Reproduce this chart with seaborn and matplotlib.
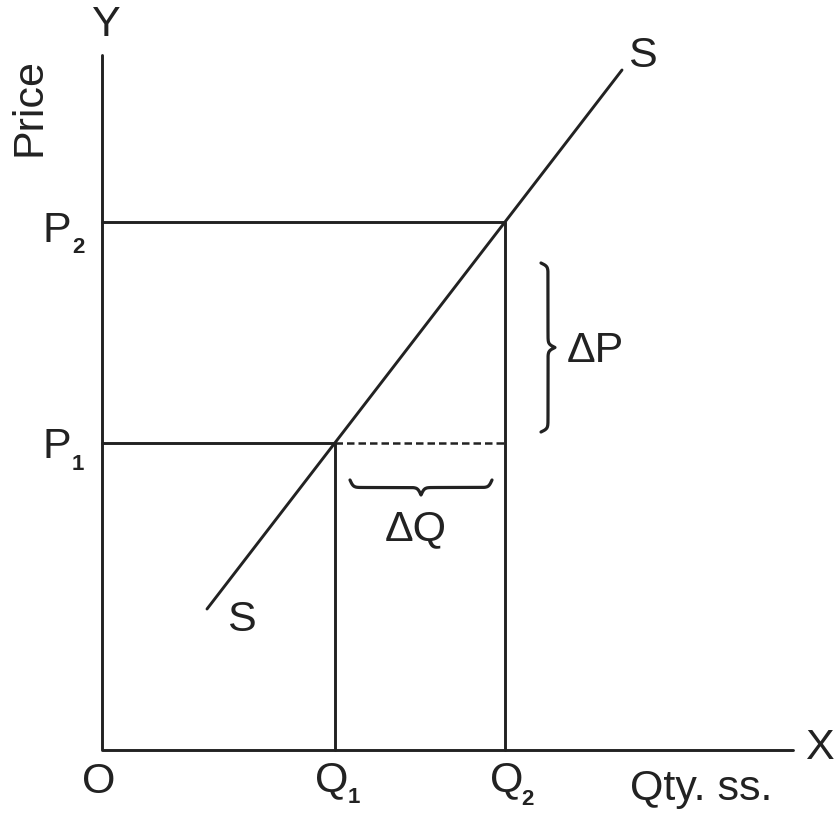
import matplotlib
matplotlib.use("Agg")
import matplotlib.pyplot as plt
import numpy as np
import pandas as pd
import seaborn as sns

OUT_PATH = "out.png"

# data units: 1 unit = 100 px, origin at O
Q1, Q2 = 2.33, 4.03
P1, P2 = 3.07, 5.28
X_END, Y_END = 6.91, 6.95

supply_q = [1.05, 5.20]
supply_p = [1.41, 6.80]

INK = "#222222"
FS = 31
SUB_FS = 16

sns.set_theme(style="white")
plt.rcParams["font.family"] = ["Liberation Sans", "DejaVu Sans"]


def brace_shape(span, n=200, beta=60.0):
    # 0 at the ends, 0.5 on the spine, 1 at the tip
    half = np.linspace(0, span / 2, n // 2)
    y = (1 / (1 + np.exp(-beta * (half - half[0])))
         + 1 / (1 + np.exp(-beta * (half - half[-1]))))
    y = np.concatenate((y, y[-2::-1])) - 0.5
    t = np.linspace(0, span, len(y))
    return t, y


segments = pd.DataFrame({
    "seg": ["axes"] * 3 + ["p2"] * 3 + ["p1"] * 3 + ["supply"] * 2,
    "q": [0, 0, X_END, 0, Q2, Q2, 0, Q1, Q1] + supply_q,
    "p": [Y_END, 0, 0, P2, P2, 0, P1, P1, 0] + supply_p,
})
dashed = pd.DataFrame({"q": [Q1, Q2], "p": [P1, P1]})

fig = plt.figure(figsize=(8.35, 8.19), dpi=100)
ax = fig.add_axes([0, 0, 1, 1])

sns.lineplot(data=segments, x="q", y="p", units="seg", estimator=None,
             sort=False, color=INK, linewidth=2.1, ax=ax)
sns.lineplot(data=dashed, x="q", y="p", estimator=None, sort=False,
             color=INK, linewidth=1.8, linestyle=(0, (3, 1.6)), ax=ax)

# brace for change in price (tip to the right)
b_lo, b_hi = P1 + 0.11, P2 - 0.41
t, s = brace_shape(b_hi - b_lo)
sns.lineplot(x=4.39 + 0.14 * s, y=b_lo + t, estimator=None, sort=False,
             color=INK, linewidth=2.3, ax=ax)

# brace for change in quantity (tip downwards)
b_lo, b_hi = Q1 + 0.15, Q2 - 0.13
t, s = brace_shape(b_hi - b_lo)
sns.lineplot(x=b_lo + t, y=P1 - 0.37 - 0.15 * s, estimator=None, sort=False,
             color=INK, linewidth=2.3, ax=ax)

txt = dict(color=INK, fontsize=FS)
sub = dict(color=INK, fontsize=SUB_FS, fontweight="bold")

ax.text(0.04, 7.14, "Y", ha="center", va="baseline", **txt)
ax.text(-0.72, 6.43, "Price", rotation=90, ha="center", va="center", **txt)
ax.text(7.17, 0.02, "X", ha="center", va="center", **txt)

ax.text(-0.60, P2 - 0.20, "P", ha="left", va="baseline", **txt)
ax.text(-0.30, P2 - 0.31, "2", ha="left", va="baseline", **sub)
ax.text(-0.60, P1 - 0.15, "P", ha="left", va="baseline", **txt)
ax.text(-0.30, P1 - 0.27, "1", ha="left", va="baseline", **sub)

ax.text(-0.03, -0.43, "O", ha="center", va="baseline", **txt)
ax.text(Q1 - 0.20, -0.41, "Q", ha="left", va="baseline", **txt)
ax.text(Q1 + 0.13, -0.53, "1", ha="left", va="baseline", **sub)
ax.text(Q2 - 0.15, -0.41, "Q", ha="left", va="baseline", **txt)
ax.text(Q2 + 0.16, -0.55, "2", ha="left", va="baseline", **sub)
ax.text(5.28, -0.50, "Qty. ss.", ha="left", va="baseline", **txt)

ax.text(5.40, 6.94, "S", ha="center", va="center", **txt)
ax.text(1.39, 1.30, "S", ha="center", va="center", **txt)

ax.text(4.65, 3.88, "\u0394P", ha="left", va="baseline", **txt)
ax.text(2.83, 2.10, "\u0394Q", ha="left", va="baseline", **txt)

ax.set_xlim(-1.02, 7.33)
ax.set_ylim(-0.69, 7.50)
ax.axis("off")

fig.savefig(OUT_PATH, dpi=100)
plt.close(fig)
print("Saved", OUT_PATH)
